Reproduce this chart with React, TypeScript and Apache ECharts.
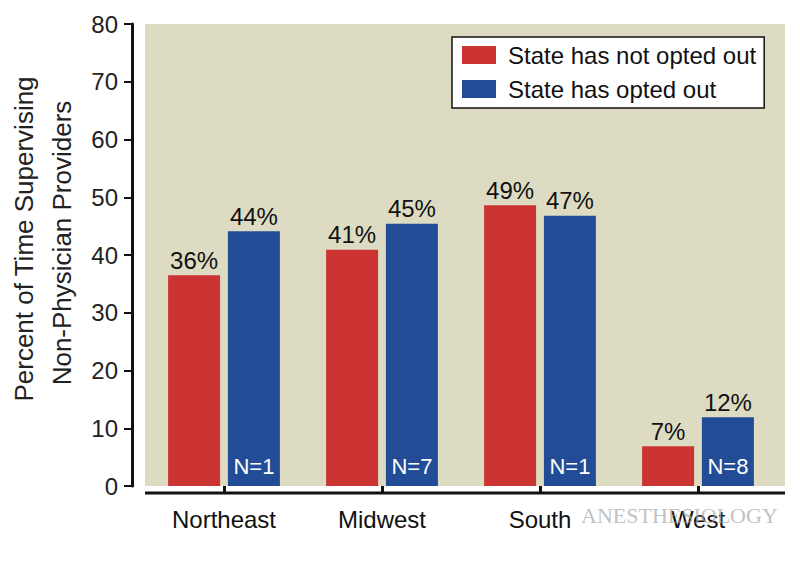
import React, { useEffect, useRef } from "react";
import * as echarts from "echarts";

const categories = ["Northeast", "Midwest", "South", "West"];
const notOptedOut = [36.5, 40.9, 48.6, 6.9];
const optedOut = [44.1, 45.4, 46.8, 11.9];
const notOptedOutLabels = ["36%", "41%", "49%", "7%"];
const optedOutLabels = ["44%", "45%", "47%", "12%"];
const nLabels = ["N=1", "N=7", "N=1", "N=8"];
const seriesNames = ["State has not opted out", "State has opted out"];
const yTitleLines = ["Percent of Time Supervising", "Non-Physician Providers"];

const RED = "#CC3333";
const BLUE = "#234C96";
const FONT = "'Liberation Sans', Arial, sans-serif";

export default function App() {
  const ref = useRef<HTMLDivElement>(null);
  useEffect(() => {
    if (!ref.current) return;
    const chart = echarts.init(ref.current, undefined, { renderer: "svg" });
    const barCommon = {
      type: "bar" as const,
      barWidth: 52,
      barGap: "15%",
    };
    chart.setOption({
      animation: false,
      backgroundColor: "#ffffff",
      textStyle: { fontFamily: FONT },
      grid: { left: 145, right: 23, top: 24, bottom: 81, show: false },
      graphic: [
        {
          type: "rect",
          z: -10,
          shape: { x: 145, y: 24, width: 640, height: 462 },
          style: { fill: "#DDDCC3" },
        },
        {
          type: "line",
          z: 10,
          shape: { x1: 145, y1: 493, x2: 785, y2: 493 },
          style: { stroke: "#111", lineWidth: 3 },
        },
        {
          type: "text",
          x: 24,
          y: 239,
          rotation: Math.PI / 2,
          style: {
            text: yTitleLines[0],
            font: `26px ${FONT}`,
            fill: "#222",
            align: "center",
            verticalAlign: "middle",
          },
        },
        {
          type: "text",
          x: 62,
          y: 243,
          rotation: Math.PI / 2,
          style: {
            text: yTitleLines[1],
            font: `26px ${FONT}`,
            fill: "#222",
            align: "center",
            verticalAlign: "middle",
          },
        },
        {
          type: "text",
          z: 100,
          x: 581,
          y: 515,
          style: {
            text: "ANESTHESIOLOGY",
            font: "22px 'Liberation Serif', 'DejaVu Serif', serif",
            fill: "rgba(165,165,165,0.7)",
            verticalAlign: "middle",
          },
        },
      ],
      legend: {
        data: seriesNames,
        orient: "vertical",
        left: 452,
        top: 37,
        backgroundColor: "#ffffff",
        borderColor: "#111111",
        borderWidth: 1.5,
        borderRadius: 0,
        padding: [6, 8, 7, 10],
        itemWidth: 34,
        itemHeight: 18,
        itemGap: 10,
        icon: "rect",
        textStyle: { fontSize: 24, color: "#111", fontFamily: FONT, padding: [0, 0, 0, 7] },
      },
      xAxis: [
        {
          type: "category",
          data: categories,
          offset: 7,
          axisLine: { show: false },
          axisTick: { show: true, alignWithLabel: true, length: 7, lineStyle: { color: "#111", width: 3 } },
          axisLabel: { fontSize: 24, color: "#111", margin: 14, fontFamily: FONT },
        },
        {
          type: "category",
          data: categories,
          show: false,
        },
      ],
      yAxis: {
        type: "value",
        min: 0,
        max: 80,
        interval: 10,
        offset: 13,
        axisLine: { show: true, lineStyle: { color: "#111", width: 3 } },
        axisTick: { show: true, length: 8, lineStyle: { color: "#111", width: 2 } },
        axisLabel: { fontSize: 24, color: "#222", margin: 14, fontFamily: FONT },
        splitLine: { show: false },
      },
      series: [
        {
          ...barCommon,
          name: seriesNames[0],
          data: notOptedOut,
          itemStyle: { color: RED },
          label: {
            show: true,
            position: "top",
            distance: 3,
            fontSize: 24,
            color: "#111",
            formatter: (p: any) => notOptedOutLabels[p.dataIndex],
          },
        },
        {
          ...barCommon,
          name: seriesNames[1],
          data: optedOut,
          itemStyle: { color: BLUE },
          label: {
            show: true,
            position: "insideBottom",
            distance: 9,
            fontSize: 22,
            color: "#ffffff",
            formatter: (p: any) => nLabels[p.dataIndex],
          },
        },
        {
          ...barCommon,
          name: "_dummy",
          xAxisIndex: 1,
          data: categories.map(() => "-"),
          silent: true,
          itemStyle: { color: "transparent" },
        },
        {
          ...barCommon,
          name: "_pct",
          xAxisIndex: 1,
          data: optedOut,
          silent: true,
          itemStyle: { color: "transparent" },
          label: {
            show: true,
            position: "top",
            distance: 3,
            fontSize: 24,
            color: "#111",
            formatter: (p: any) => optedOutLabels[p.dataIndex],
          },
        },
      ],
    });
    return () => chart.dispose();
  }, []);
  return (
    <div
      ref={ref}
      style={{ position: "absolute", left: 0, top: 0, width: 800, height: 567 }}
    />
  );
}
